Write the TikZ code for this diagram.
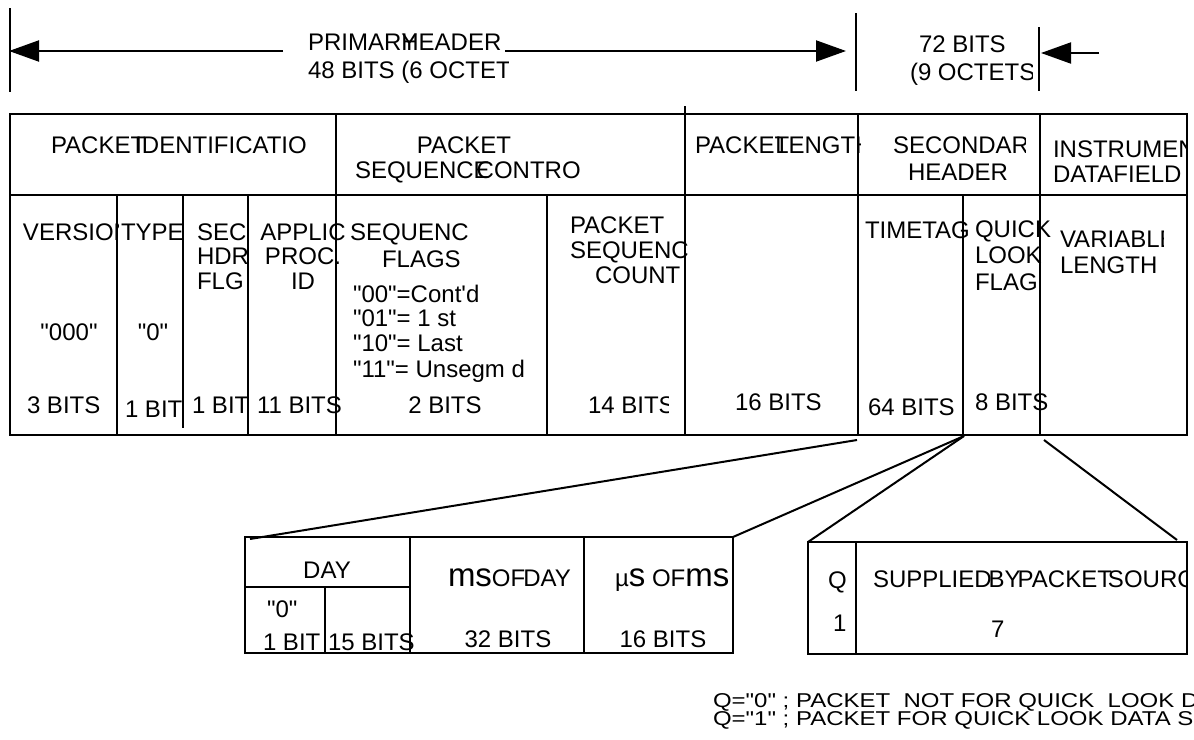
\documentclass[tikz,border=0pt]{standalone}
\usepackage{fontspec}
\setmainfont{Liberation Sans}[Ligatures=TeXOff]
\newfontfamily\widefont{Liberation Sans}[Ligatures=TeXOff,FakeStretch=1.2]
\usetikzlibrary{arrows.meta}
\newcommand{\bigms}[1]{{\fontsize{16.5}{16.5}\selectfont #1}}
\begin{document}
\begin{tikzpicture}[x=0.5pt,y=-0.5pt,
  every node/.style={inner sep=0pt,outer sep=0pt,font=\fontsize{12}{12}\selectfont},
  lbl/.style={anchor=base west},
  clbl/.style={anchor=base},
  note/.style={anchor=base west,font=\widefont\fontsize{10}{10}\selectfont},
  ln/.style={line width=1pt},
  arr/.style={line width=1pt,-{Triangle[length=15pt,width=10.5pt]}}]
\useasboundingbox (0,0) rectangle (1194,739);

% ---------- top dimension arrows ----------
\coordinate (ptick-a) at (10,8);    \coordinate (ptick-b) at (10,92);
\coordinate (stick-a) at (856,13);  \coordinate (stick-b) at (856,91);
\coordinate (etick-a) at (1039,27); \coordinate (etick-b) at (1039,91);
\draw[ln] (ptick-a) -- (ptick-b);
\draw[ln] (stick-a) -- (stick-b);
\draw[ln] (etick-a) -- (etick-b);
\coordinate (pal-s) at (283,51);  \coordinate (pal-e) at (9,51);
\coordinate (par-s) at (505,51);  \coordinate (par-e) at (846,51);
\coordinate (sa-s) at (1099,53);  \coordinate (sa-e) at (1041,53);
\draw[arr] (pal-s) -- (pal-e);
\draw[arr] (par-s) -- (par-e);
\draw[arr] (sa-s) -- (sa-e);

\node[lbl] (t-prim) at (308,50) {PRIMAR\rlap{Y}HEADER};
\begin{scope}\clip (300,55) rectangle (508,90);
\node[lbl] (t-48) at (308,78) {48 BITS (6 OCTETS)};
\end{scope}
\node[lbl] (t-72) at (919,52) {72 BITS};
\begin{scope}\clip (900,55) rectangle (1032,90);
\node[lbl] (t-9o) at (910,80) {(9 OCTETS)};
\end{scope}

% ---------- main table ----------
\coordinate (tab-nw) at (10,114); \coordinate (tab-se) at (1187,435);
\draw[ln] (tab-nw) rectangle (tab-se);
\draw[ln] (10,195) -- (1187,195);
\draw[ln] (336,114) -- (336,435);
\draw[ln] (685,106) -- (685,435);
\draw[ln] (858,114) -- (858,435);
\draw[ln] (1040,114) -- (1040,435);
\draw[ln] (117,195) -- (117,435);
\draw[ln] (183,195) -- (183,428);
\draw[ln] (248,195) -- (248,435);
\draw[ln] (547,195) -- (547,435);
\draw[ln] (963,195) -- (963,437);

% header row
\begin{scope}\clip (40,120) rectangle (305,190);
\node[lbl] (h-pid) at (51,153) {PACKET\kern-5pt IDENTIFICATION};
\end{scope}
\node[clbl] (h-psc1) at (464,153) {PACKET};
\node[lbl] (h-psc2) at (355,178) {SEQUENCE\kern-6.5pt CONTRO};
\begin{scope}\clip (690,120) rectangle (860,190);
\node[lbl] (h-plen) at (695,153) {PACKET\kern-7pt LENGTH};
\end{scope}
\begin{scope}\clip (880,120) rectangle (1025,190);
\node[lbl] (h-sec1) at (893,153) {SECONDARY};
\end{scope}
\node[lbl] (h-sec2) at (908,180) {HEADER};
\begin{scope}\clip (1045,120) rectangle (1187,190);
\node[lbl] (h-ins1) at (1053,157) {INSTRUMENT};
\node[lbl] (h-ins2) at (1053,182) {DATAFIELD};
\end{scope}

% body row
\begin{scope}\clip (15,200) rectangle (118,250);
\node[lbl] (b-ver) at (23,240) {VERSION};
\end{scope}
\node[lbl] (b-type) at (121,240) {TYPE};
\node[lbl] (b-sec1) at (197,240) {SEC};
\node[lbl] (b-sec2) at (197,264) {HDR};
\node[lbl] (b-sec3) at (197,289) {FLG};
\node[clbl] (b-app1) at (303,240) {APPLIC};
\node[clbl] (b-app2) at (303,264) {PROC.};
\node[clbl] (b-app3) at (303,289) {ID};
\node[lbl] (b-sf1) at (350,240) {SEQUENC};
\node[lbl] (b-sf2) at (382,267) {FLAGS};
\node[lbl] (b-f00) at (353,302) {"00"=Cont'd};
\node[lbl] (b-f01) at (353,326) {"01"= 1 st};
\node[lbl] (b-f10) at (353,351) {"10"= Last};
\node[lbl] (b-f11) at (353,377) {"11"= Unsegm d};
\node[lbl] (b-pc1) at (570,233) {PACKET};
\node[lbl] (b-pc2) at (570,258) {SEQUENC};
\node[lbl] (b-pc3) at (595,283) {COUNT};
\node[lbl] (b-tt) at (865,238) {TIMETAG};
\node[lbl] (b-ql1) at (975,237) {QUICK};
\node[lbl] (b-ql2) at (975,263) {LOOK};
\node[lbl] (b-ql3) at (975,290) {FLAG};
\begin{scope}\clip (1050,200) rectangle (1163,255);
\node[lbl] (b-var1) at (1060,247) {VARIABLE};
\end{scope}
\node[lbl] (b-var2) at (1060,273) {LENGTH};
\node[clbl] (b-v000) at (69,340) {"000"};
\node[clbl] (b-v0) at (153,340) {"0"};
\node[lbl] (b-3b) at (27,413) {3 BITS};
\node[lbl] (b-1b) at (125,417) {1 BIT};
\node[lbl] (b-1b2) at (192,413) {1 BIT};
\node[lbl] (b-11b) at (257,413) {11 BITS};
\node[clbl] (b-2b) at (445,413) {2 BITS};
\begin{scope}\clip (580,390) rectangle (668,420);
\node[lbl] (b-14b) at (588,413) {14 BITS};
\end{scope}
\node[lbl] (b-16b) at (735,410) {16 BITS};
\node[lbl] (b-64b) at (868,415) {64 BITS};
\node[lbl] (b-8b) at (975,410) {8 BITS};

% ---------- expansion boxes ----------
\coordinate (f1) at (857,440);
\coordinate (f2) at (964,436);
\coordinate (f4) at (1044,440);
\coordinate (tb-nw) at (245,537); \coordinate (tb-ne) at (733,537);
\coordinate (tb-se) at (733,653);  \coordinate (tb-fan) at (250,539);
\coordinate (qb-nw) at (808,542); \coordinate (qb-se) at (1187,654);
\coordinate (qb-fan) at (1177,540);

\draw[ln] (tb-nw) rectangle (tb-se);
\draw[ln] (245,587) -- (410,587);
\draw[ln] (325,587) -- (325,653);
\draw[ln] (410,537) -- (410,653);
\draw[ln] (584,537) -- (584,653);

\draw[ln] (qb-nw) rectangle (qb-se);
\draw[ln] (856,542) -- (856,654);

\draw[ln] (f1) -- (tb-fan);
\draw[ln] (f2) -- (tb-ne);
\draw[ln] (f2) -- (qb-nw);
\draw[ln] (f4) -- (qb-fan);

\node[clbl] (d-day) at (327,578) {DAY};
\node[lbl] (d-ms) at (448,586) {\bigms{ms}OF\kern-1pt DAY};
\node[lbl] (d-us) at (615,586) {µ\bigms{s} OF\bigms{ms}};
\node[lbl] (d-0) at (267,617) {"0"};
\node[lbl] (d-1b) at (263,650) {1 BIT};
\node[lbl] (d-15b) at (328,650) {15 BITS};
\node[clbl] (d-32b) at (508,647) {32 BITS};
\node[clbl] (d-16b) at (663,647) {16 BITS};

\node[lbl] (q-q) at (828,588) {Q};
\node[lbl] (q-1) at (833,631) {1};
\begin{scope}\clip (860,545) rectangle (1187,600);
\node[lbl] (q-sup) at (873,587) {SUPPLIED\kern-1.5pt BY\kern-1.5pt PACKET\kern-2pt SOURCE};
\end{scope}
\node[lbl] (q-7) at (991,637) {7};

% ---------- footnote ----------
\begin{scope}\clip (700,680) rectangle (1194,739);
\node[note] (n-1) at (713,707) {Q="0" ; PACKET\ \ NOT FOR QUICK\ \ LOOK DATA};
\node[note] (n-2) at (713,725) {Q="1" ; PACKET FOR QUICK LOOK DATA SET};
\end{scope}
\end{tikzpicture}
\end{document}
